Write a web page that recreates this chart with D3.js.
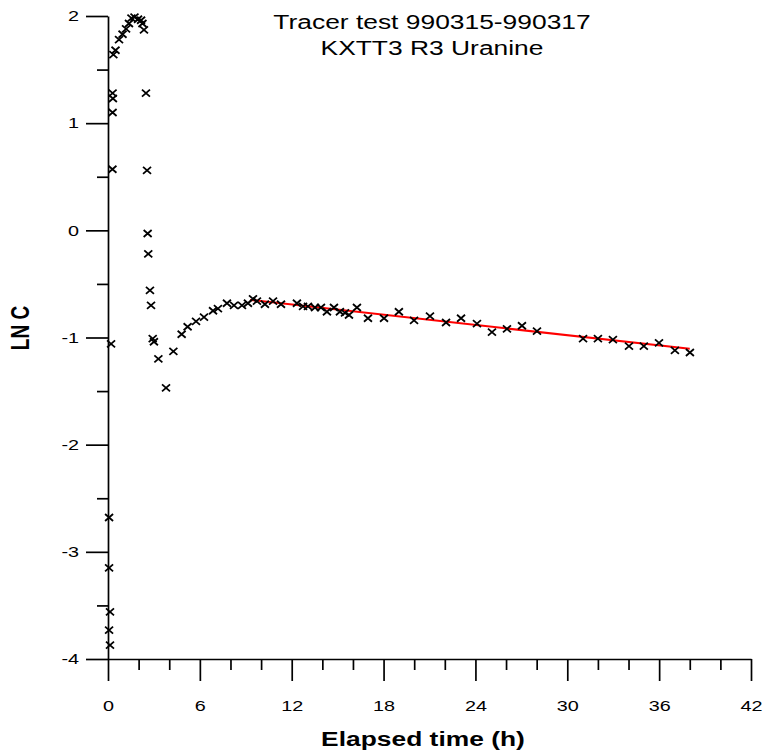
<!DOCTYPE html>
<html>
<head>
<meta charset="utf-8">
<script src="https://cdn.jsdelivr.net/npm/d3@7"></script>
<style>
  html, body { margin: 0; padding: 0; background: #fff; }
  svg { display: block; font-family: Arial, "Liberation Sans", sans-serif; }
</style>
</head>
<body>
<svg id="chart" width="767" height="756"></svg>
<script>
// ---- data ----
const titleLines = ["Tracer test 990315-990317", "KXTT3 R3 Uranine"];
const xLabel = "Elapsed time (h)";
const yLabel = "LN C";
const xMajorTicks = [0, 6, 12, 18, 24, 30, 36, 42];
const xMinorTicks = [2, 4, 8, 10, 14, 16, 20, 22, 26, 28, 32, 34, 38, 40];
const yMajorTicks = [-4, -3, -2, -1, 0, 1, 2];
const yMinorTicks = [-3.5, -2.5, -1.5, -0.5, 0.5, 1.5];

const timeH = [0.07, 0.07, 0.13, 0.07, 0.13, 0.2, 0.29, 0.3, 0.32, 0.3,
  0.35, 0.49, 0.72, 0.95, 1.18, 1.37, 1.53, 1.73, 1.96, 2.16, 2.25, 2.35,
  2.48, 2.55, 2.59, 2.63, 2.74, 2.81, 2.92, 3.0, 3.29, 3.79, 4.27, 4.81,
  5.2, 5.75, 6.27, 6.86, 7.18, 7.77, 8.23, 8.75, 9.14, 9.47, 9.73, 10.25, 10.78,
  11.3, 12.34, 12.74, 13.06, 13.52, 13.91, 14.3, 14.76, 15.15, 15.48, 15.74,
  16.26, 16.98, 18.03, 19.0, 19.99, 21.03, 22.08, 23.06, 24.1, 25.08, 26.06,
  27.04, 28.02, 31.03, 32.0, 32.98, 34.03, 35.0, 35.99, 37.03, 38.01];
const lnC = [-2.68, -3.15, -3.56, -3.73, -3.87, -1.06, 0.57, 1.10, 1.23, 1.28,
  1.64, 1.68, 1.78, 1.83, 1.88, 1.93, 1.98, 1.99, 1.97, 1.96, 1.93, 1.87,
  1.28, 0.56, -0.03, -0.22, -0.56, -0.70, -1.01, -1.04, -1.20, -1.47, -1.13, -0.97,
  -0.90, -0.85, -0.81, -0.75, -0.73, -0.68, -0.70, -0.70, -0.68, -0.64, -0.66, -0.69, -0.66,
  -0.69, -0.68, -0.71, -0.71, -0.72, -0.72, -0.76, -0.72, -0.76, -0.77, -0.79,
  -0.72, -0.82, -0.82, -0.76, -0.84, -0.80, -0.86, -0.82, -0.87, -0.95, -0.92,
  -0.89, -0.94, -1.01, -1.01, -1.02, -1.08, -1.08, -1.05, -1.12, -1.14];

const fitX = [9.27, 38.0];
const fitY = [-0.649, -1.106];

// ---- layout ----
const SX = 1.32; // horizontal text stretch seen in the reference
const svg = d3.select("#chart");
const x = d3.scaleLinear().domain([0, 42]).range([108, 751]);
const y = d3.scaleLinear().domain([-4, 2]).range([659, 16]);

const axisColor = "#000";

// x axis
const gx = svg.append("g").attr("transform", `translate(0,${y(-4)})`);
gx.append("g").call(d3.axisBottom(x).tickValues(xMinorTicks).tickSize(11).tickSizeOuter(0).tickFormat(""))
  .call(g => g.select(".domain").remove());
gx.append("g").call(d3.axisBottom(x).tickValues(xMajorTicks).tickSize(22).tickSizeOuter(0).tickPadding(19)
  .tickFormat(d => String(d)));
gx.selectAll("text").attr("font-size", 15).attr("font-family", "Arial, 'Liberation Sans', sans-serif")
  .attr("fill", "#000").attr("transform", `scale(${SX},1)`);

// y axis
const gy = svg.append("g").attr("transform", `translate(${x(0)},0)`);
gy.append("g").call(d3.axisLeft(y).tickValues(yMinorTicks).tickSize(11).tickSizeOuter(0).tickFormat(""))
  .call(g => g.select(".domain").remove());
gy.append("g").call(d3.axisLeft(y).tickValues(yMajorTicks).tickSize(22).tickSizeOuter(0).tickPadding(9)
  .tickFormat(d => String(d)));
gy.selectAll("text").attr("font-size", 15).attr("font-family", "Arial, 'Liberation Sans', sans-serif")
  .attr("fill", "#000")
  .attr("x", -29 / SX)
  .attr("transform", `scale(${SX},1)`);

svg.selectAll(".domain, .tick line").attr("stroke", axisColor).attr("stroke-width", 1.7);

// fit line
svg.append("path")
  .datum(fitX.map((t, i) => [t, fitY[i]]))
  .attr("fill", "none").attr("stroke", "#ff0000").attr("stroke-width", 2)
  .attr("d", d3.line().x(d => x(d[0])).y(d => y(d[1])));

// points
const cross = "M-4,-3.5L4,3.5M-4,3.5L4,-3.5";
svg.append("g").selectAll("path")
  .data(timeH.map((t, i) => [t, lnC[i]]))
  .join("path")
  .attr("d", cross)
  .attr("transform", d => `translate(${x(d[0])},${y(d[1])})`)
  .attr("stroke", "#000").attr("stroke-width", 1.8).attr("fill", "none");

// title
const title = svg.append("g");
titleLines.forEach((t, i) => {
  title.append("text")
    .attr("transform", `translate(432,${29 + i * 26}) scale(${SX},1)`)
    .attr("text-anchor", "middle").attr("font-size", 20).attr("fill", "#000")
    .text(t);
});

// x label
svg.append("text")
  .attr("transform", `translate(423,746) scale(${SX},1)`)
  .attr("text-anchor", "middle").attr("font-size", 20).attr("font-weight", "bold").attr("fill", "#000")
  .text(xLabel);

// y label
svg.append("text")
  .attr("transform", `translate(20,328) scale(${SX},1) rotate(-90)`)
  .attr("text-anchor", "middle").attr("dy", "0.36em").attr("font-size", 19).attr("font-weight", "bold").attr("fill", "#000")
  .text(yLabel);
</script>
</body>
</html>
